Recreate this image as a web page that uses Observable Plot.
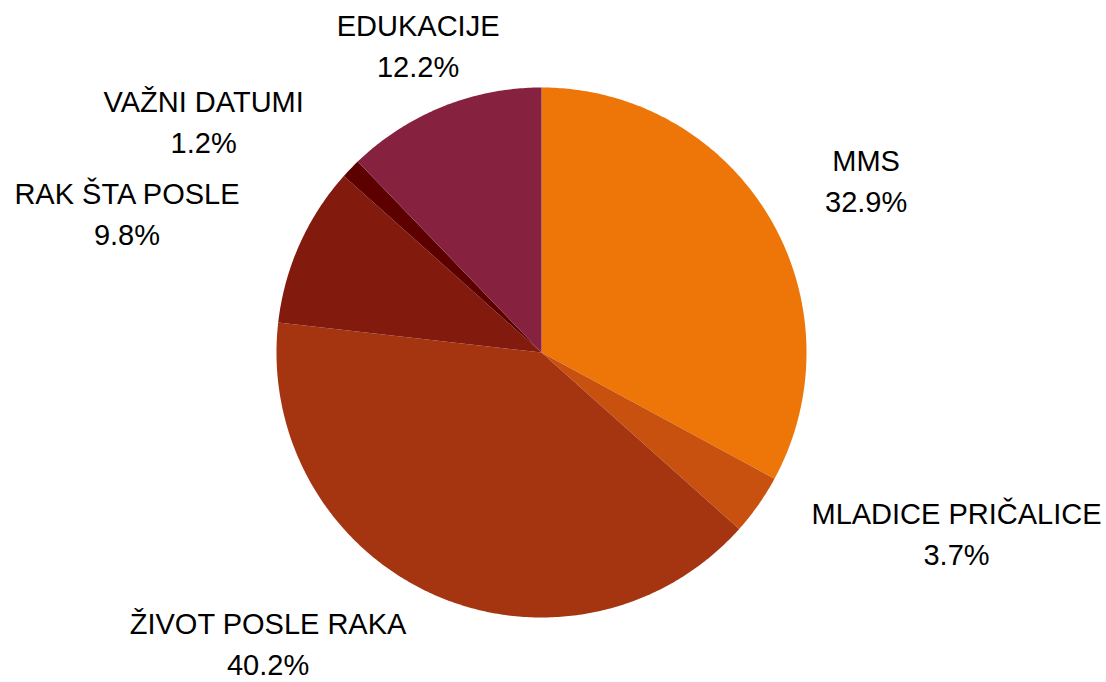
<!DOCTYPE html>
<html>
<head>
<meta charset="utf-8">
<script src="https://cdn.jsdelivr.net/npm/d3@7"></script>
<script src="https://cdn.jsdelivr.net/npm/@observablehq/plot@0.6"></script>
<style>
  html, body { margin: 0; padding: 0; background: #ffffff; }
  #chart { width: 1106px; height: 682px; }
</style>
</head>
<body>
<div id="chart"></div>
<script>
// ---- data ----
const categories = ["MMS", "MLADICE PRIČALICE", "ŽIVOT POSLE RAKA", "RAK ŠTA POSLE", "VAŽNI DATUMI", "EDUKACIJE"];
const shares = [32.9, 3.7, 40.2, 9.8, 1.2, 12.2];
const sliceColors = ["#EE7508", "#C9510F", "#A53511", "#821A0E", "#5C0000", "#862140"];

// ---- layout ----
const W = 1106, H = 682;
const CX = 541, CY = 352, R = 265;
const FONT = 29, FONT_FAMILY = "'Liberation Sans', Arial, sans-serif";
const LINE_H = 41 / 29;
const RX = 330, RY = 325, HALF_H = 0, LIFT = 8;

const arcs = d3.pie().sort(null).value(d => d)(shares);

// slice polygons in unit coordinates (y up)
const slices = arcs.map((a, i) => {
  const n = Math.max(4, Math.ceil((a.endAngle - a.startAngle) / 0.01));
  const ring = [[0, 0]];
  for (let k = 0; k <= n; k++) {
    const t = a.startAngle + (a.endAngle - a.startAngle) * k / n;
    ring.push([Math.sin(t), Math.cos(t)]);
  }
  ring.push([0, 0]);
  return {type: "Feature", properties: {name: categories[i], color: sliceColors[i]},
          geometry: {type: "Polygon", coordinates: [ring]}};
});

// text measurement
const ctx = document.createElement("canvas").getContext("2d");
ctx.font = `${FONT}px ${FONT_FAMILY}`;

function align(thetaDeg) {
  const t = ((thetaDeg % 360) + 360) % 360;
  if (t <= 22.5 || t > 337.5) return [1, 0];
  if (t < 67.5) return [1, 1];
  if (t < 112.5) return [0, 1];
  if (t <= 157.5) return [-1, 1];
  if (t <= 202.5) return [-1, 0];
  if (t < 247.5) return [-1, -1];
  if (t < 292.5) return [0, -1];
  return [1, -1];
}

const labels = arcs.map((a, i) => {
  const mid = (a.startAngle + a.endAngle) / 2;
  const text = `${categories[i]}\n${shares[i].toFixed(1)}%`;
  const w = Math.max(...text.split("\n").map(s => ctx.measureText(s).width));
  const [sx, sy] = align(90 - mid * 180 / Math.PI);
  const px = RX * Math.sin(mid) + sx * w / 2;
  const py = RY * Math.cos(mid) + sy * HALF_H + LIFT;
  return {text, x: px / R, y: py / R};
});

const chart = Plot.plot({
  width: W,
  height: H,
  margin: 0,
  style: {background: "#ffffff", fontFamily: FONT_FAMILY},
  projection: () => d3.geoIdentity().reflectY(true).scale(R).translate([CX, CY]),
  marks: [
    Plot.geo(slices, {fill: d => d.properties.color, stroke: "none"}),
    Plot.text(labels, {
      x: "x", y: "y", text: "text",
      fontSize: FONT, fontFamily: FONT_FAMILY, fill: "#000000",
      textAnchor: "middle", lineAnchor: "middle", lineHeight: LINE_H
    })
  ]
});
document.getElementById("chart").appendChild(chart);
</script>
</body>
</html>
